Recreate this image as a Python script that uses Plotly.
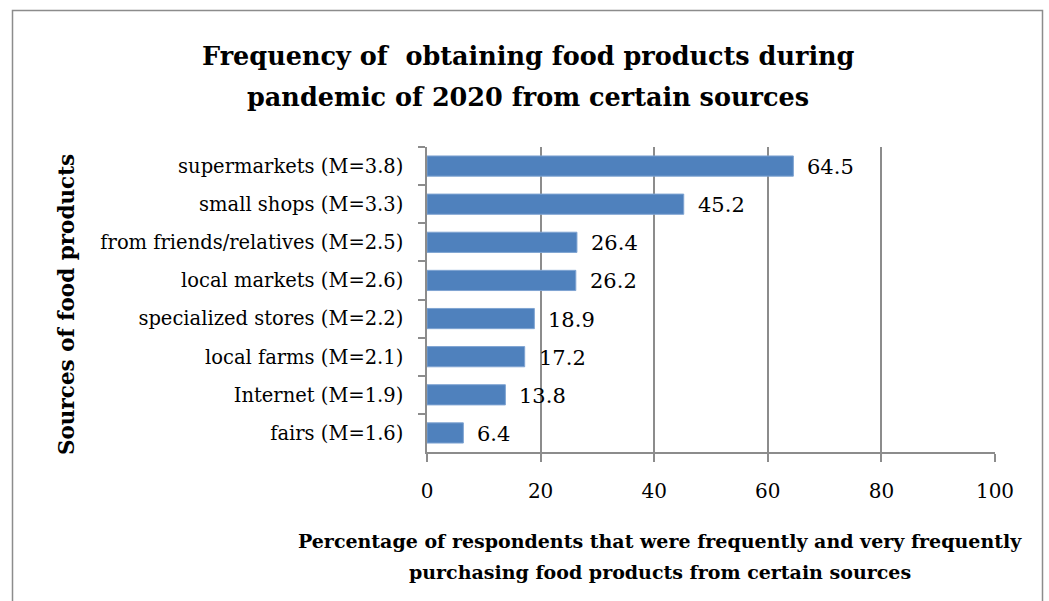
import plotly.graph_objects as go

# Sources of food products and the share of respondents buying from them often
sources = [
    "supermarkets (M=3.8)",
    "small shops (M=3.3)",
    "from friends/relatives (M=2.5)",
    "local markets (M=2.6)",
    "specialized stores (M=2.2)",
    "local farms (M=2.1)",
    "Internet (M=1.9)",
    "fairs (M=1.6)",
]
percentages = [64.5, 45.2, 26.4, 26.2, 18.9, 17.2, 13.8, 6.4]
x_ticks = [0, 20, 40, 60, 80, 100]

FONT = "DejaVu Serif"
W, H = 1049, 601
L, R, T, B = 427, 54, 147, 149
PW, PH = W - L - R, H - T - B

fig = go.Figure(
    go.Bar(
        x=percentages,
        y=sources,
        orientation="h",
        marker=dict(color="#4F81BD", line=dict(color="#7FA4D2", width=1)),
        width=0.53,
        hoverinfo="x+y",
    )
)

# value labels to the right of each bar
for src, val in zip(sources, percentages):
    fig.add_annotation(
        x=val, y=src, text=f"{val}", showarrow=False,
        xanchor="left", yanchor="middle", xshift=12, yshift=-1,
        font=dict(family=FONT, size=21, color="black"),
    )

def px_to_paper_x(px):
    return (px - L) / PW

def px_to_paper_y(py):
    return (H - B - py) / PH

# two-line chart title
for line, py in [("Frequency of  obtaining food products during", 56),
                 ("pandemic of 2020 from certain sources", 97)]:
    fig.add_annotation(
        x=px_to_paper_x(528), y=px_to_paper_y(py), xref="paper", yref="paper",
        text=f"<b>{line}</b>", showarrow=False, xanchor="center", yanchor="middle",
        font=dict(family=FONT, size=25.5, color="black"),
    )

# two-line x-axis title
for line, py in [("Percentage of respondents that were frequently and very frequently", 541),
                 ("purchasing food products from certain sources", 572)]:
    fig.add_annotation(
        x=px_to_paper_x(660), y=px_to_paper_y(py), xref="paper", yref="paper",
        text=f"<b>{line}</b>", showarrow=False, xanchor="center", yanchor="middle",
        font=dict(family=FONT, size=19, color="black"),
    )

# y-axis title
fig.add_annotation(
    x=px_to_paper_x(66), y=px_to_paper_y(305), xref="paper", yref="paper",
    text="<b>Sources of food products</b>", showarrow=False, textangle=-90,
    xanchor="center", yanchor="middle",
    font=dict(family=FONT, size=21.5, color="black"),
)

# outer chart frame
fig.add_shape(
    type="rect", xref="paper", yref="paper",
    x0=px_to_paper_x(12.5), x1=px_to_paper_x(1042.5),
    y0=px_to_paper_y(620), y1=px_to_paper_y(10.5),
    line=dict(color="#8C8C8C", width=1.5), fillcolor="rgba(0,0,0,0)", layer="below",
)

fig.update_layout(
    width=W, height=H,
    margin=dict(l=L, r=R, t=T, b=B, pad=0),
    paper_bgcolor="white", plot_bgcolor="white",
    showlegend=False,
    bargap=0.47,
    font=dict(family=FONT, size=19, color="black"),
    xaxis=dict(
        range=[0, 100], tickvals=x_ticks, ticktext=[str(v) for v in x_ticks],
        showgrid=True, gridcolor="#8C8C8C", gridwidth=1.5,
        showline=True, linecolor="#8C8C8C", linewidth=1.5,
        ticks="outside", ticklen=8, tickcolor="#8C8C8C", tickwidth=1.5,
        ticklabelstandoff=12,
        tickfont=dict(family=FONT, size=20, color="black"),
        zeroline=False, fixedrange=True,
    ),
    yaxis=dict(
        categoryorder="array", categoryarray=sources, autorange="reversed",
        showline=True, linecolor="#8C8C8C", linewidth=1.5,
        ticks="outside", ticklen=7, tickcolor="#8C8C8C", tickwidth=1.5,
        tickson="boundaries", ticklabelstandoff=18,
        tickfont=dict(family=FONT, size=19.5, color="black"),
        showgrid=False, zeroline=False, fixedrange=True,
    ),
)

fig.write_html("out.html")
